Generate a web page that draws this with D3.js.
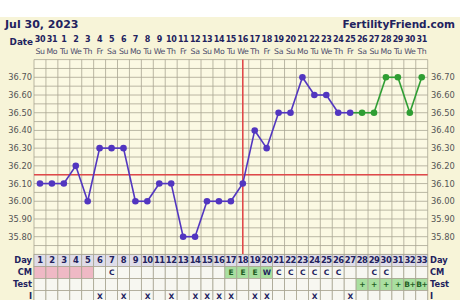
<!DOCTYPE html>
<html>
<head>
<meta charset="utf-8">
<script src="https://cdn.jsdelivr.net/npm/d3@7"></script>
<style>
  body { margin: 0; background: #fff; }
  text { font-family: "DejaVu Sans", Verdana, sans-serif; }
</style>
</head>
<body>
<div id="container"></div>
<script>
// Chart data
const cycleDays = [1, 2, 3, 4, 5, 6, 7, 8, 9, 10, 11, 12, 13, 14, 15, 16, 17, 18, 19, 20, 21, 22, 23, 24, 25, 26, 27, 28, 29, 30, 31, 32, 33];
const dates = [30, 31, 1, 2, 3, 4, 5, 6, 7, 8, 9, 10, 11, 12, 13, 14, 15, 16, 17, 18, 19, 20, 21, 22, 23, 24, 25, 26, 27, 28, 29, 30, 31];
const weekdays = ["Su", "Mo", "Tu", "We", "Th", "Fr", "Sa", "Su", "Mo", "Tu", "We", "Th", "Fr", "Sa", "Su", "Mo", "Tu", "We", "Th", "Fr", "Sa", "Su", "Mo", "Tu", "We", "Th", "Fr", "Sa", "Su", "Mo", "Tu", "We", "Th"];
const temps = [36.10, 36.10, 36.10, 36.20, 36.00, 36.30, 36.30, 36.30, 36.00, 36.00, 36.10, 36.10, 35.80, 35.80, 36.00, 36.00, 36.00, 36.10, 36.40, 36.30, 36.50, 36.50, 36.70, 36.60, 36.60, 36.50, 36.50, 36.50, 36.50, 36.70, 36.70, 36.50, 36.70];
// "p" = normal phase, "g" = after test phase started
const phase = ["p", "p", "p", "p", "p", "p", "p", "p", "p", "p", "p", "p", "p", "p", "p", "p", "p", "p", "p", "p", "p", "p", "p", "p", "p", "p", "p", "g", "g", "g", "g", "g", "g"];
const cm = ["", "", "", "", "", "", "C", "", "", "", "", "", "", "", "", "", "E", "E", "E", "W", "C", "C", "C", "C", "C", "C", "", "", "C", "C", "", "", ""];
const cmFill = ["m", "m", "m", "m", "m", "", "", "", "", "", "", "", "", "", "", "", "f", "f", "f", "f", "", "", "", "", "", "", "", "", "", "", "", "", ""];
const tests = ["", "", "", "", "", "", "", "", "", "", "", "", "", "", "", "", "", "", "", "", "", "", "", "", "", "", "", "+", "+", "+", "+", "B+", "B+"];
const intercourse = ["", "", "", "", "", "X", "", "X", "", "X", "", "X", "", "X", "X", "X", "X", "", "X", "X", "", "", "", "X", "", "", "X", "", "", "", "", "", ""];
const tempTicks = [35.80, 35.90, 36.00, 36.10, 36.20, 36.30, 36.40, 36.50, 36.60, 36.70];
const coverline = 36.15;
const ovulationDay = 18;

const width = 460, height = 300;
const navy = "#22225e";
const gridColor = "#a9a693";
const purple = "#5236c0";
const green = "#2f9e33";

const svg = d3.create("svg").attr("width", width).attr("height", height);
container.append(svg.node());

// plot box
const m = { left: 34, right: 427.7, top: 59.6, bottom: 254.4 };
const rowH = 12;

const x = d3.scaleBand().domain(cycleDays).range([m.left, m.right]);
const y = d3.scaleLinear().domain([35.7, 36.8]).range([m.bottom, m.top]);
const cx = d => x(d) + x.bandwidth() / 2;

// background panel
svg.append("rect").attr("x", 0).attr("y", 17).attr("width", width).attr("height", height - 17).attr("fill", "#f7f4d8");
svg.append("rect").attr("x", m.left).attr("y", m.top).attr("width", m.right - m.left).attr("height", m.bottom - m.top).attr("fill", "#fbf9e3");

// title texts
svg.append("text").attr("x", 5).attr("y", 28).attr("font-size", 11).attr("font-weight", "bold").attr("fill", navy).text("Jul 30, 2023");
svg.append("text").attr("x", 455).attr("y", 28).attr("text-anchor", "end").attr("font-size", 10.5).attr("font-weight", "bold").attr("fill", navy).text("FertilityFriend.com");

// date header
svg.append("text").attr("x", 33).attr("y", 45).attr("text-anchor", "end").attr("font-size", 8.8).attr("font-weight", "bold").attr("fill", navy).text("Date");
svg.selectAll(".date").data(dates).join("text").attr("class", "date")
  .attr("x", (d, i) => cx(cycleDays[i])).attr("y", 42).attr("text-anchor", "middle")
  .attr("font-size", 8).attr("font-weight", "bold").attr("fill", navy).attr("letter-spacing", -0.4).text(d => d);
svg.selectAll(".wd").data(weekdays).join("text").attr("class", "wd")
  .attr("x", (d, i) => cx(cycleDays[i])).attr("y", 54).attr("text-anchor", "middle")
  .attr("font-size", 7.8).attr("fill", "#4a4a6a").attr("letter-spacing", -0.4).text(d => d);

// temperature grid
const hLines = d3.range(35.7, 36.8001, 0.05);
svg.append("g").selectAll("line").data(hLines).join("line")
  .attr("x1", m.left).attr("x2", m.right).attr("y1", d => y(d)).attr("y2", d => y(d))
  .attr("stroke", gridColor).attr("stroke-width", 0.8);
svg.append("g").selectAll("line").data(cycleDays.concat([null])).join("line")
  .attr("x1", d => d === null ? m.right : x(d)).attr("x2", d => d === null ? m.right : x(d))
  .attr("y1", m.top).attr("y2", m.bottom + 4 * rowH)
  .attr("stroke", gridColor).attr("stroke-width", 0.8);

// temperature labels on both sides
svg.selectAll(".tl").data(tempTicks).join("text").attr("class", "tl")
  .attr("x", 32).attr("y", d => y(d) + 3).attr("text-anchor", "end")
  .attr("font-size", 8.3).attr("fill", "#555").text(d => d.toFixed(2));
svg.selectAll(".tr").data(tempTicks).join("text").attr("class", "tr")
  .attr("x", 431).attr("y", d => y(d) + 3)
  .attr("font-size", 8.3).attr("fill", "#555").text(d => d.toFixed(2));

// coverline and ovulation line
svg.append("line").attr("x1", m.left).attr("x2", m.right).attr("y1", y(coverline)).attr("y2", y(coverline))
  .attr("stroke", "#e0484a").attr("stroke-width", 1.6);
svg.append("line").attr("x1", cx(ovulationDay)).attr("x2", cx(ovulationDay)).attr("y1", m.top).attr("y2", m.bottom)
  .attr("stroke", "#e0484a").attr("stroke-width", 1.6);

// temperature line, coloured per segment
const pts = temps.map((t, i) => ({ day: cycleDays[i], t, phase: phase[i] }));
svg.append("g").selectAll("line").data(pts.slice(1)).join("line")
  .attr("x1", (d, i) => cx(pts[i].day)).attr("y1", (d, i) => y(pts[i].t))
  .attr("x2", d => cx(d.day)).attr("y2", d => y(d.t))
  .attr("stroke", d => d.phase === "g" ? green : purple).attr("stroke-width", 1.6);
svg.append("g").selectAll("circle").data(pts).join("circle")
  .attr("cx", d => cx(d.day)).attr("cy", d => y(d.t)).attr("r", 3.3)
  .attr("fill", d => d.phase === "g" ? green : purple);

// bottom table
const rows = [
  { label: "Day", vals: cycleDays.map(String), bg: () => "#dfdde9", color: () => navy },
  { label: "CM", vals: cm, bg: i => cmFill[i] === "m" ? "#efb9c5" : cmFill[i] === "f" ? "#a9dfa0" : "#f7f7f1", color: v => v === "E" ? "#235e23" : navy },
  { label: "Test", vals: tests, bg: i => tests[i] ? "#a9dfa0" : "#f7f7f1", color: () => "#235e23" },
  { label: "I", vals: intercourse, bg: () => "#f7f7f1", color: () => navy }
];
rows.forEach((r, ri) => {
  const top = m.bottom + ri * rowH;
  const g = svg.append("g");
  g.selectAll("rect").data(r.vals).join("rect")
    .attr("x", (d, i) => x(cycleDays[i])).attr("y", top)
    .attr("width", x.bandwidth()).attr("height", rowH)
    .attr("fill", (d, i) => r.bg(i)).attr("stroke", gridColor).attr("stroke-width", 0.8);
  g.selectAll("text").data(r.vals).join("text")
    .attr("x", (d, i) => cx(cycleDays[i])).attr("y", top + 9).attr("text-anchor", "middle")
    .attr("font-size", r.label === "Day" ? 8.4 : 7.5).attr("font-weight", "bold").attr("letter-spacing", -0.5)
    .attr("fill", d => r.color(d)).text(d => d);
  svg.append("text").attr("x", 32).attr("y", top + 9).attr("text-anchor", "end")
    .attr("font-size", 8.3).attr("font-weight", "bold").attr("fill", navy).text(r.label);
  svg.append("text").attr("x", 430).attr("y", top + 9)
    .attr("font-size", 8.3).attr("font-weight", "bold").attr("fill", navy).text(r.label);
});
</script>
</body>
</html>
